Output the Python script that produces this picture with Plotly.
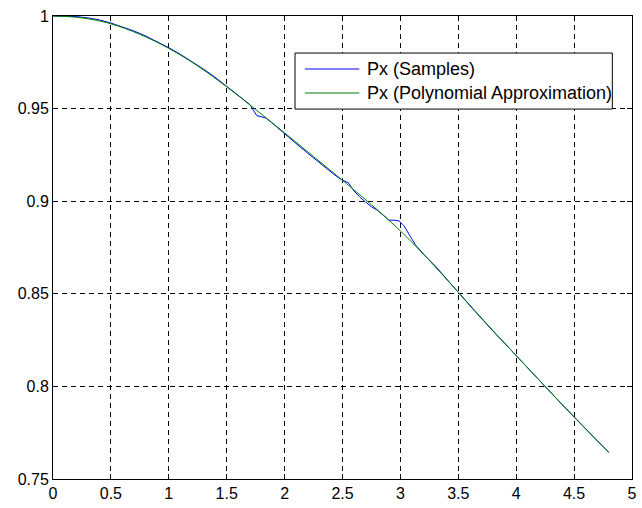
import plotly.graph_objects as go

# Sampled Px values
sample_x = [0.0, 0.1, 0.2, 0.3, 0.4, 0.5, 0.6, 0.7, 0.8, 0.9,
            1.0, 1.1, 1.2, 1.3, 1.4, 1.5, 1.6, 1.7, 1.76, 1.84,
            1.9, 2.0, 2.1, 2.2, 2.3, 2.4, 2.45, 2.5, 2.55, 2.6,
            2.65, 2.7, 2.75, 2.8, 2.85, 2.9, 2.95, 2.99, 3.03, 3.07,
            3.1, 3.13, 3.2, 3.3, 3.4, 3.5, 3.6, 3.7, 3.8, 3.9,
            4.0, 4.1, 4.2, 4.3, 4.4, 4.5, 4.6, 4.7, 4.8]
sample_px = [1.0000, 1.0000, 0.9997, 0.9990, 0.9979, 0.9962, 0.9942, 0.9919, 0.9892, 0.9861,
             0.9829, 0.9793, 0.9754, 0.9713, 0.9669, 0.9621, 0.9572, 0.9522, 0.9462, 0.9449,
             0.9418, 0.9363, 0.9311, 0.9259, 0.9207, 0.9157, 0.9133, 0.9113, 0.9100, 0.9055,
             0.9022, 0.8995, 0.8970, 0.8952, 0.8925, 0.8898, 0.8897, 0.8893, 0.8868, 0.8830,
             0.8795, 0.8764, 0.8714, 0.8651, 0.8582, 0.8508, 0.8436, 0.8364, 0.8298, 0.8233,
             0.8166, 0.8100, 0.8030, 0.7962, 0.7900, 0.7836, 0.7774, 0.7707, 0.7644]

# Polynomial approximation of Px
poly_x = [0.0, 0.25, 0.5, 0.75, 1.0, 1.25, 1.5, 1.75, 2.0, 2.25, 2.5,
          2.75, 3.0, 3.25, 3.5, 3.75, 4.0, 4.25, 4.5, 4.75, 4.8]
poly_px = [1.0000, 0.9990, 0.9958, 0.9901, 0.9825, 0.9730, 0.9618, 0.9495, 0.9369, 0.9241, 0.9113,
           0.8981, 0.8840, 0.8680, 0.8508, 0.8335, 0.8166, 0.7999, 0.7834, 0.7675, 0.7644]

series_names = ["Px (Samples)", "Px (Polynomial Approximation)"]
series_colors = ["rgb(0,0,255)", "rgb(0,128,0)"]

x_ticks = [0, 0.5, 1, 1.5, 2, 2.5, 3, 3.5, 4, 4.5, 5]
y_ticks = [0.75, 0.8, 0.85, 0.9, 0.95, 1]

font_family = "Liberation Sans, Arial, Helvetica, sans-serif"

fig = go.Figure()
fig.add_trace(go.Scatter(x=sample_x, y=sample_px, mode="lines",
                         name=series_names[0], showlegend=False,
                         line=dict(color=series_colors[0], width=1)))
fig.add_trace(go.Scatter(x=poly_x, y=poly_px, mode="lines",
                         name=series_names[1], showlegend=False,
                         line=dict(color=series_colors[1], width=1, shape="spline")))

axis_common = dict(
    showline=True, linecolor="black", linewidth=1, mirror="ticks",
    ticks="inside", ticklen=5, tickcolor="black", tickwidth=1,
    showgrid=True, gridcolor="black", gridwidth=1, griddash="5px,4px",
    zeroline=False,
    tickfont=dict(family=font_family, size=16, color="black"),
)

fig.update_xaxes(range=[0, 5], tickvals=x_ticks,
                 ticktext=[f"{v:g}" for v in x_ticks], **axis_common)
fig.update_yaxes(range=[0.75, 1], tickvals=y_ticks,
                 ticktext=[f"{v:g}" for v in y_ticks], **axis_common)

# Legend box in the upper right of the axes (paper coordinates)
box_x0, box_x1 = 0.418, 0.966
box_y0, box_y1 = 0.799, 0.920
row_y = [0.8855, 0.8337]
line_x0, line_x1 = 0.435, 0.529
text_x = 0.538

shapes = [dict(type="rect", xref="paper", yref="paper",
               x0=box_x0, x1=box_x1, y0=box_y0, y1=box_y1,
               line=dict(color="black", width=1), fillcolor="white", layer="above")]
annotations = []
for name, color, y in zip(series_names, series_colors, row_y):
    shapes.append(dict(type="line", xref="paper", yref="paper",
                       x0=line_x0, x1=line_x1, y0=y, y1=y,
                       line=dict(color=color, width=1), layer="above"))
    annotations.append(dict(text=name, xref="paper", yref="paper",
                            x=text_x, y=y, xanchor="left", yanchor="middle",
                            showarrow=False,
                            font=dict(family=font_family, size=18, color="black")))

fig.update_layout(
    width=642, height=508, autosize=False,
    margin=dict(l=53, r=5, t=16, b=29, pad=0),
    paper_bgcolor="white", plot_bgcolor="white",
    font=dict(family=font_family, size=16, color="black"),
    showlegend=False,
    shapes=shapes,
    annotations=annotations,
)

fig.write_html("out.html")
